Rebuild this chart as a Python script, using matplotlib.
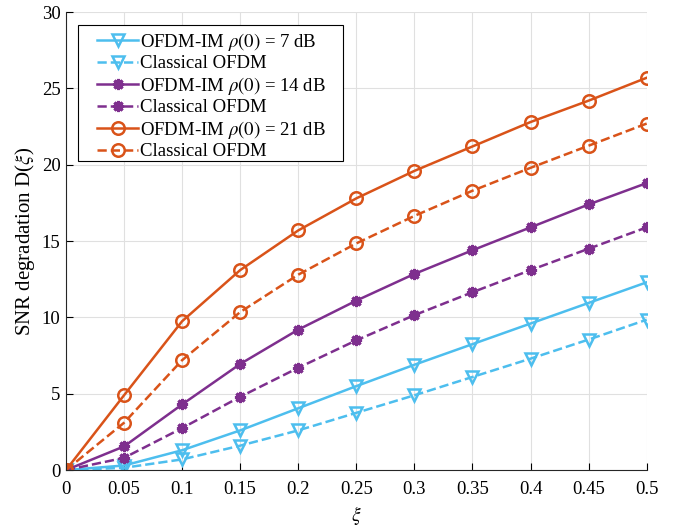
import matplotlib
matplotlib.use("Agg")
import matplotlib.pyplot as plt
from matplotlib.patches import Rectangle

plt.rcParams['font.family'] = ['Liberation Serif', 'DejaVu Serif']
plt.rcParams['mathtext.fontset'] = 'stix'

xi = [0, 0.05, 0.1, 0.15, 0.2, 0.25, 0.3, 0.35, 0.4, 0.45, 0.5]
im_7 = [0, 0.3, 1.3, 2.6, 4.05, 5.5, 6.9, 8.25, 9.6, 10.95, 12.3]
cl_7 = [0, 0.15, 0.7, 1.6, 2.6, 3.75, 4.9, 6.1, 7.3, 8.55, 9.85]
im_14 = [0, 1.55, 4.3, 6.95, 9.2, 11.1, 12.85, 14.4, 15.9, 17.4, 18.8]
cl_14 = [0, 0.8, 2.75, 4.8, 6.7, 8.5, 10.15, 11.65, 13.1, 14.5, 15.9]
im_21 = [0, 4.9, 9.75, 13.1, 15.7, 17.8, 19.6, 21.2, 22.8, 24.2, 25.7]
cl_21 = [0, 3.1, 7.2, 10.35, 12.8, 14.85, 16.65, 18.3, 19.8, 21.25, 22.7]

labels = [r'OFDM-IM $\rho(0)$ = 7 dB', 'Classical OFDM',
          r'OFDM-IM $\rho(0)$ = 14 dB', 'Classical OFDM',
          r'OFDM-IM $\rho(0)$ = 21 dB', 'Classical OFDM']
xticks = [0, 0.05, 0.1, 0.15, 0.2, 0.25, 0.3, 0.35, 0.4, 0.45, 0.5]
xticklabels = ['0', '0.05', '0.1', '0.15', '0.2', '0.25', '0.3', '0.35', '0.4', '0.45', '0.5']
yticks = [0, 5, 10, 15, 20, 25, 30]

blue = '#4DBEEE'
purple = '#7E2F8E'
orange = '#D95319'

fig = plt.figure(figsize=(6.8, 5.27), dpi=100)
ax = fig.add_axes([0.097, 0.108, 0.854, 0.869])

ms = 9
ax.plot(xi, im_7, '-', color=blue, lw=1.8, marker='v', ms=ms, mfc='none', mew=1.8, label=labels[0])
ax.plot(xi, cl_7, '--', color=blue, lw=1.8, marker='v', ms=ms, mfc='none', mew=1.8, label=labels[1])
ax.plot(xi, im_14, '-', color=purple, lw=1.8, marker=(8, 2, 0), ms=8, mew=2.2, label=labels[2])
ax.plot(xi, cl_14, '--', color=purple, lw=1.8, marker=(8, 2, 0), ms=8, mew=2.2, label=labels[3])
ax.plot(xi, im_21, '-', color=orange, lw=1.8, marker='o', ms=ms, mfc='none', mew=1.8, label=labels[4])
ax.plot(xi, cl_21, '--', color=orange, lw=1.8, marker='o', ms=ms, mfc='none', mew=1.8, label=labels[5])

ax.set_xlim(0, 0.5)
ax.set_ylim(0, 30)
ax.set_xticks(xticks)
ax.set_xticklabels(xticklabels)
ax.set_yticks(yticks)
ax.grid(True, color='#e0e0e0', lw=0.8)
ax.set_axisbelow(True)
ax.tick_params(direction='in', labelsize=13.5, length=5, top=False, right=False)
ax.tick_params(axis='x', pad=8)
ax.tick_params(axis='y', pad=4)
ax.spines['top'].set_visible(False)
ax.spines['right'].set_visible(False)
for s in ['left', 'bottom']:
    ax.spines[s].set_color('#262626')
    ax.spines[s].set_linewidth(0.8)
ax.set_xlabel(r'$\xi$', fontsize=14, labelpad=4)
ax.set_ylabel(r'SNR degradation D($\xi$)', fontsize=15, labelpad=3)

# legend frame drawn separately (wider horizontal padding than vertical)
frame = Rectangle((0.0207, 0.6747), 0.4561, 0.2969, transform=ax.transAxes,
                  facecolor='white', edgecolor='black', lw=0.8, zorder=4.5)
ax.add_patch(frame)
leg = ax.legend(loc='upper left', fontsize=13.5, frameon=False,
                handlelength=2.2, handletextpad=0.12,
                borderpad=0.3, borderaxespad=0, labelspacing=0.13,
                bbox_to_anchor=(0.0437, 0.9716))
leg.set_zorder(5)

fig.savefig('out.png', dpi=100)
